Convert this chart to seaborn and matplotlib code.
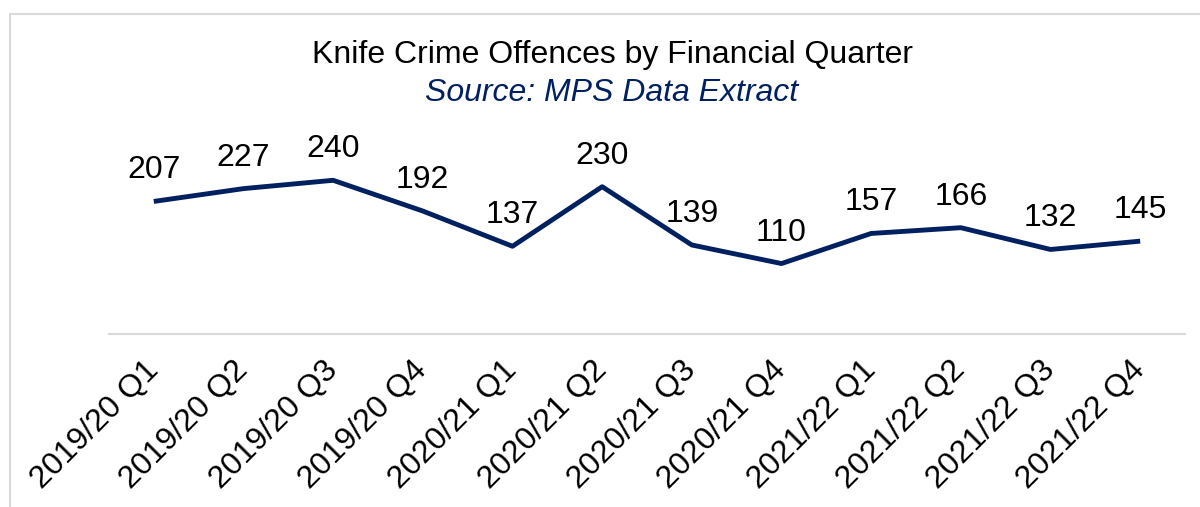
import matplotlib
matplotlib.use("Agg")
import matplotlib.pyplot as plt
import seaborn as sns
import pandas as pd
from matplotlib.patches import Rectangle

quarters = ["2019/20 Q1", "2019/20 Q2", "2019/20 Q3", "2019/20 Q4",
            "2020/21 Q1", "2020/21 Q2", "2020/21 Q3", "2020/21 Q4",
            "2021/22 Q1", "2021/22 Q2", "2021/22 Q3", "2021/22 Q4"]
offences = [207, 227, 240, 192, 137, 230, 139, 110, 157, 166, 132, 145]

title = "Knife Crime Offences by Financial Quarter"
subtitle = "Source: MPS Data Extract"

NAVY = "#002060"

sns.set_theme(style="white")
plt.rcParams["font.family"] = ["Liberation Sans", "DejaVu Sans"]

df = pd.DataFrame({"quarter": quarters, "offences": offences})

fig = plt.figure(figsize=(12, 5.07), dpi=100)
ax = fig.add_axes([0.0908, 0.3412, 0.8967, 0.379])

sns.lineplot(data=df, x="quarter", y="offences", sort=False, color=NAVY,
             linewidth=3.5, ax=ax, solid_capstyle="butt")

ax.set_xlim(-0.5, len(quarters) - 0.5)
ax.set_ylim(0, 300)
ax.set_xlabel("")
ax.set_ylabel("")
ax.set_yticks([])
for side in ["top", "right", "left"]:
    ax.spines[side].set_visible(False)
ax.spines["bottom"].set_color("#d9d9d9")
ax.spines["bottom"].set_linewidth(1.5)

ax.set_xticks(range(len(quarters)))
ax.set_xticklabels(quarters, rotation=45, ha="right", va="center",
                   rotation_mode="anchor", fontsize=23, color="black")
ax.tick_params(axis="x", length=0, pad=23)

for i, v in enumerate(offences):
    ax.annotate(str(v), (i, v), xytext=(0, 11.5), textcoords="offset points",
                ha="center", va="bottom", fontsize=23, color="black")

fig.text(0.51, 0.891, title, ha="center", va="center", fontsize=23, color="black")
fig.text(0.51, 0.816, subtitle, ha="center", va="center", fontsize=23,
         color=NAVY, style="italic")

# chart-area frame
fig.patches.append(Rectangle((10 / 1200, -0.1), 1.2, 1 - 14 / 507 + 0.1,
                             transform=fig.transFigure, fill=False,
                             edgecolor="#d9d9d9", linewidth=1.5))

fig.savefig("out.png", dpi=100, facecolor="white")
